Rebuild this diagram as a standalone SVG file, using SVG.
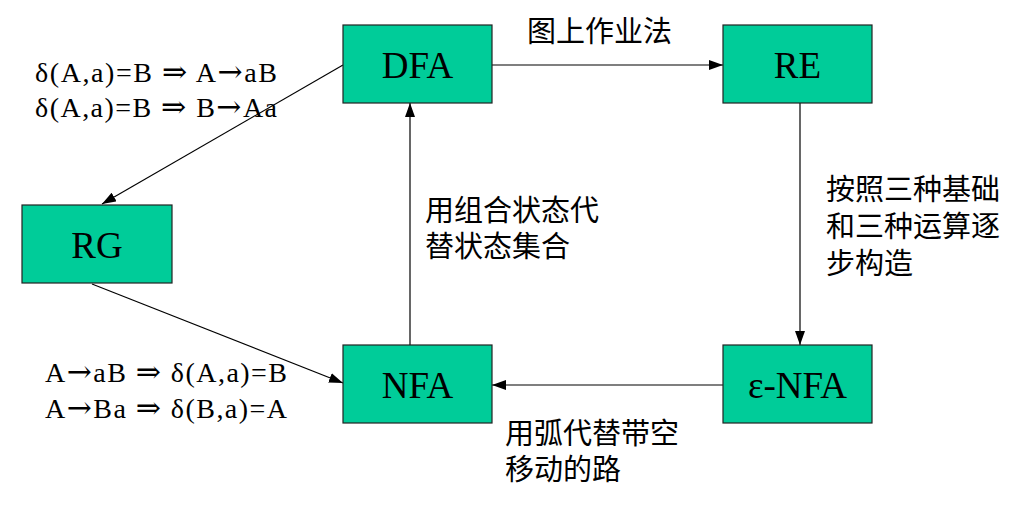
<svg xmlns="http://www.w3.org/2000/svg" width="1030" height="513" viewBox="0 0 1030 513">
<style>
.box{fill:#00CC99;stroke:#222;stroke-width:1.2}
.lbl{font-family:"Liberation Serif","DejaVu Serif",serif;font-size:37px;fill:#000;text-anchor:middle}
.math{font-family:"Liberation Serif","DejaVu Serif",serif;font-size:28px;fill:#000}
.sym{font-family:"DejaVu Serif",serif;font-size:30px}
.cn{font-family:"Noto Sans CJK SC",sans-serif;font-size:29px;fill:#000}
.ln{stroke:#000;stroke-width:1.2;fill:none;marker-end:url(#ah)}
</style>
<defs>
<marker id="ah" viewBox="0 0 14 10" refX="14" refY="5" markerWidth="14" markerHeight="10" markerUnits="userSpaceOnUse" orient="auto">
<path d="M0,0 L14,5 L0,10 Z" fill="#000"/>
</marker>
</defs>
<rect width="1030" height="513" fill="#fff"/>
<g id="connectors">
<line class="ln" x1="492" y1="65" x2="723" y2="65"/>
<line class="ln" x1="800" y1="103" x2="800" y2="345"/>
<line class="ln" x1="723" y1="385" x2="492" y2="385"/>
<line class="ln" x1="410" y1="345" x2="410" y2="103"/>
<line class="ln" x1="343" y1="65" x2="102" y2="204"/>
<line class="ln" x1="92" y1="284" x2="343" y2="383"/>
</g>
<g id="DFA"><rect class="box" x="343" y="25" width="149" height="78"/><text class="lbl" x="417.5" y="78">DFA</text></g>
<g id="RE"><rect class="box" x="723" y="25" width="149" height="78"/><text class="lbl" x="797.5" y="78">RE</text></g>
<g id="RG"><rect class="box" x="22" y="205" width="150" height="78"/><text class="lbl" x="97" y="258">RG</text></g>
<g id="NFA"><rect class="box" x="343" y="345" width="149" height="78"/><text class="lbl" x="417.5" y="398">NFA</text></g>
<g id="eNFA"><rect class="box" x="723" y="345" width="149" height="78"/><text class="lbl" x="797.5" y="398">ε-NFA</text></g>
<g id="labels">
<text class="cn" x="527" y="42">图上作业法</text>
<text class="cn" x="425" y="221">用组合状态代</text>
<text class="cn" x="425" y="257">替状态集合</text>
<text class="cn" x="826" y="200">按照三种基础</text>
<text class="cn" x="826" y="237">和三种运算逐</text>
<text class="cn" x="826" y="274">步构造</text>
<text class="cn" x="505" y="444">用弧代替带空</text>
<text class="cn" x="505" y="480">移动的路</text>
<text class="math" x="35" y="82" textLength="242" lengthAdjust="spacing">δ(A,a)=B <tspan class="sym">⇒</tspan> A<tspan class="sym">→</tspan>aB</text>
<text class="math" x="35" y="117" textLength="242" lengthAdjust="spacing">δ(A,a)=B <tspan class="sym">⇒</tspan> B<tspan class="sym">→</tspan>Aa</text>
<text class="math" x="45" y="382" textLength="242" lengthAdjust="spacing">A<tspan class="sym">→</tspan>aB <tspan class="sym">⇒</tspan> δ(A,a)=B</text>
<text class="math" x="45" y="418" textLength="242" lengthAdjust="spacing">A<tspan class="sym">→</tspan>Ba <tspan class="sym">⇒</tspan> δ(B,a)=A</text>
</g>
</svg>
